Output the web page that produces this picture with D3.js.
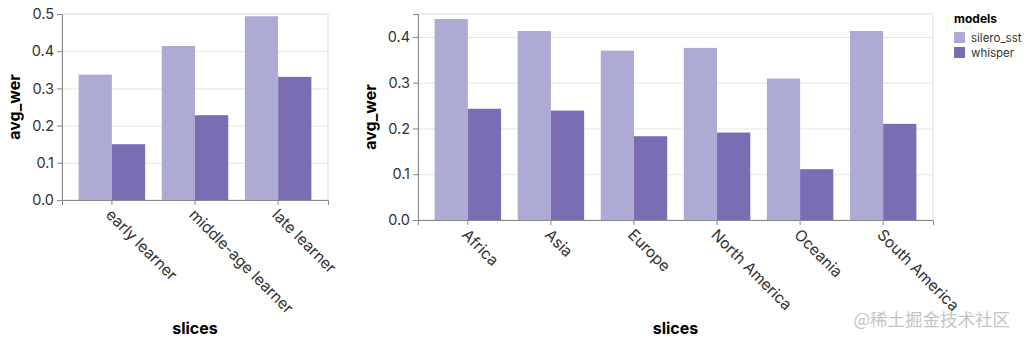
<!DOCTYPE html>
<html>
<head>
<meta charset="utf-8">
<script src="https://d3js.org/d3.v7.min.js"></script>
<title>avg_wer by slice</title>
<style>
  body { margin: 0; background: #fff; }
  svg { font-family: Inter, "Noto Sans", sans-serif; }
  .tick text { fill: #333; }
  .axis-title { font-weight: bold; font-size: 16px; fill: #000; }
</style>
</head>
<body>
<svg id="chart" width="1024" height="343"></svg>
<script>
// data
const models = ["silero_sst", "whisper"];
const ageSlices = ["early learner", "middle-age learner", "late learner"];
const ageSilero = [0.337, 0.414, 0.494];
const ageWhisper = [0.150, 0.228, 0.331];
const regionSlices = ["Africa", "Asia", "Europe", "North America", "Oceania", "South America"];
const regionSilero = [0.439, 0.413, 0.370, 0.376, 0.309, 0.413];
const regionWhisper = [0.243, 0.239, 0.183, 0.191, 0.111, 0.210];
const ageTicks = [0, 0.1, 0.2, 0.3, 0.4, 0.5];
const regionTicks = [0, 0.1, 0.2, 0.3, 0.4];

const colors = d3.scaleOrdinal().domain(models).range(["#adabd4", "#7a6db3"]);
const svg = d3.select("#chart");

// one grouped bar panel
function panel(opts) {
  const { left, right, top, bottom, cats, vals, yMax, ticks, titleX } = opts;
  const g = svg.append("g");

  const x = d3.scaleBand().domain(cats).range([left, right])
    .paddingInner(0.2).paddingOuter(0.2);
  const xm = d3.scaleBand().domain(models).range([0, x.bandwidth()]);
  const y = d3.scaleLinear().domain([0, yMax]).range([bottom, top]);

  // frame
  g.append("rect")
    .attr("x", left).attr("y", top)
    .attr("width", right - left).attr("height", bottom - top)
    .attr("fill", "none").attr("stroke", "#ddd");

  // grid
  g.selectAll(".grid").data(ticks).join("line")
    .attr("x1", left).attr("x2", right)
    .attr("y1", d => y(d) + 0.5).attr("y2", d => y(d) + 0.5)
    .attr("stroke", "#e6e6e6");

  // bars
  const rows = [];
  cats.forEach((c, i) => {
    models.forEach((m, j) => rows.push({ cat: c, model: m, v: vals[j][i] }));
  });
  g.selectAll(".bar").data(rows).join("rect")
    .attr("x", d => x(d.cat) + xm(d.model))
    .attr("width", xm.bandwidth())
    .attr("y", d => y(d.v))
    .attr("height", d => y(0) - y(d.v))
    .attr("fill", d => colors(d.model));

  // y axis
  const ya = g.append("g").attr("transform", `translate(${left},0)`)
    .call(d3.axisLeft(y).tickValues(ticks).tickFormat(d3.format(".1f")).tickSize(5).tickPadding(3))
    .attr("font-family", null).attr("font-size", 14.5);
  ya.select(".domain").attr("stroke", "#888");
  ya.selectAll(".tick line").attr("stroke", "#888");

  // x axis
  const xa = g.append("g").attr("transform", `translate(0,${bottom})`)
    .call(d3.axisBottom(x).tickSize(5))
    .attr("font-family", null).attr("font-size", 15.5);
  xa.select(".domain").attr("stroke", "#888");
  xa.selectAll(".tick line").attr("stroke", "#888");
  xa.selectAll(".tick text")
    .attr("text-anchor", "start")
    .attr("y", 0).attr("dy", "0.35em")
    .attr("transform", "translate(-3,12) rotate(45)");

  g.append("text").attr("class", "axis-title")
    .attr("transform", `translate(${titleX},${(top + bottom) / 2}) rotate(-90)`)
    .attr("text-anchor", "middle")
    .text("avg_wer");
  g.append("text").attr("class", "axis-title")
    .attr("x", (left + right) / 2).attr("y", 334)
    .attr("text-anchor", "middle")
    .text("slices");
}

panel({ left: 62, right: 328, top: 14, bottom: 200, cats: ageSlices,
  vals: [ageSilero, ageWhisper], yMax: 0.5, ticks: ageTicks, titleX: 20 });
panel({ left: 418, right: 933, top: 14, bottom: 220, cats: regionSlices,
  vals: [regionSilero, regionWhisper], yMax: 0.45, ticks: regionTicks, titleX: 376 });

// legend
const lg = svg.append("g").attr("transform", "translate(954,0)");
lg.append("text").attr("x", 0).attr("y", 23)
  .attr("font-size", 12).attr("font-weight", "bold").text("models");
const item = lg.selectAll(".item").data(models).join("g")
  .attr("transform", (d, i) => `translate(0,${32 + i * 15})`);
item.append("rect").attr("width", 11).attr("height", 11).attr("fill", d => colors(d));
item.append("text").attr("x", 17).attr("y", 9.5)
  .attr("font-size", 11.5).attr("fill", "#333").text(d => d);

// watermark
svg.append("text").attr("x", 1010).attr("y", 326)
  .attr("text-anchor", "end")
  .attr("font-family", "'Noto Sans CJK SC', sans-serif")
  .attr("font-size", 17.5).attr("fill", "#c4c4c4")
  .text("@稀土掘金技术社区");
</script>
</body>
</html>
